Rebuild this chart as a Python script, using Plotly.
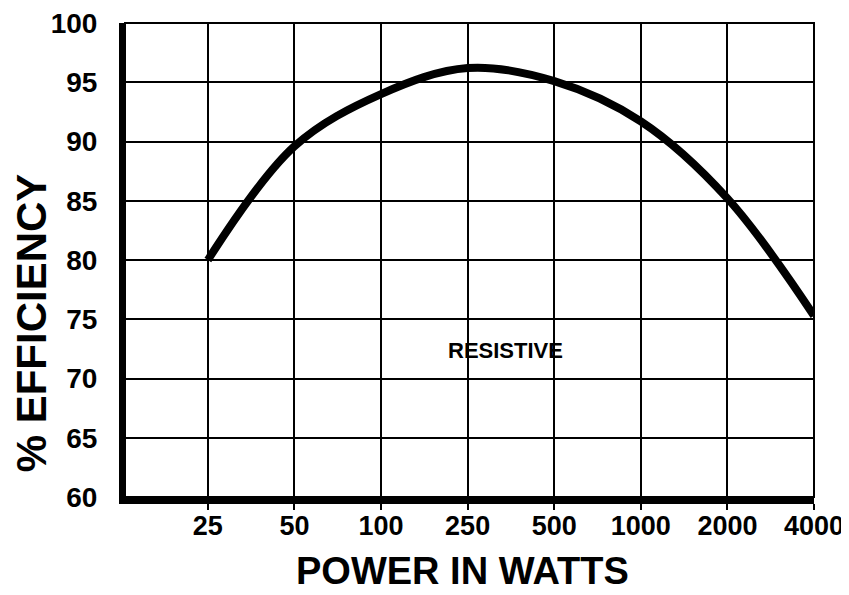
import plotly.graph_objects as go

# Data
power_labels = ["25", "50", "100", "250", "500", "1000", "2000", "4000"]
efficiency = [80.0, 89.6, 94.0, 96.2, 95.1, 91.7, 85.2, 75.3]
y_ticks = [60, 65, 70, 75, 80, 85, 90, 95, 100]

positions = list(range(len(power_labels)))

FONT = "Liberation Sans"

fig = go.Figure()
fig.add_trace(go.Scatter(
    x=positions, y=efficiency, mode="lines",
    line=dict(color="black", width=8, shape="spline", smoothing=1.0),
    showlegend=False, hoverinfo="skip",
))

fig.add_annotation(
    x=3.44, y=72.4, text="RESISTIVE", showarrow=False,
    font=dict(family=FONT, size=22, color="black", weight="bold"),
)

# axis titles as annotations for precise placement
fig.add_annotation(
    xref="paper", yref="paper", x=0.49, y=-0.157, yanchor="middle", xanchor="center",
    text="POWER IN WATTS", showarrow=False,
    font=dict(family=FONT, size=38, color="black", weight="bold"),
)
fig.add_annotation(
    xref="paper", yref="paper", x=-0.136, y=0.367, xanchor="center", yanchor="middle",
    text="% EFFICIENCY", showarrow=False, textangle=-90,
    font=dict(family=FONT, size=42, color="black", weight="bold"),
)

# thin border on top/right
fig.add_shape(type="rect", xref="paper", yref="paper", x0=0, y0=0, x1=1, y1=1,
              line=dict(color="black", width=2), layer="above")

# page body has an 8px margin, so the figure is sized/offset to compensate
fig.update_layout(
    width=841, height=587,
    paper_bgcolor="white", plot_bgcolor="white",
    margin=dict(l=117, r=35, t=15, b=98),
    xaxis=dict(
        range=[-0.957, 7], tickmode="array", tickvals=positions, ticktext=power_labels,
        showgrid=True, gridcolor="black", gridwidth=2,
        showline=True, linecolor="black", linewidth=7,
        ticks="outside", ticklen=6, tickwidth=1.5, tickcolor="black",
        ticklabelstandoff=-7, ticklabeloverflow="allow",
        tickfont=dict(family=FONT, size=27, color="black", weight="bold"),
        automargin=False, zeroline=False, fixedrange=True,
    ),
    yaxis=dict(
        range=[60, 100], tickmode="array", tickvals=y_ticks,
        ticktext=[str(v) for v in y_ticks],
        showgrid=True, gridcolor="black", gridwidth=2,
        showline=True, linecolor="black", linewidth=6,
        ticks="outside", ticklen=16, tickcolor="rgba(0,0,0,0)",
        ticklabeloverflow="allow",
        tickfont=dict(family=FONT, size=28, color="black", weight="bold"),
        automargin=False, zeroline=False, fixedrange=True,
    ),
)

fig.write_html("out.html")
